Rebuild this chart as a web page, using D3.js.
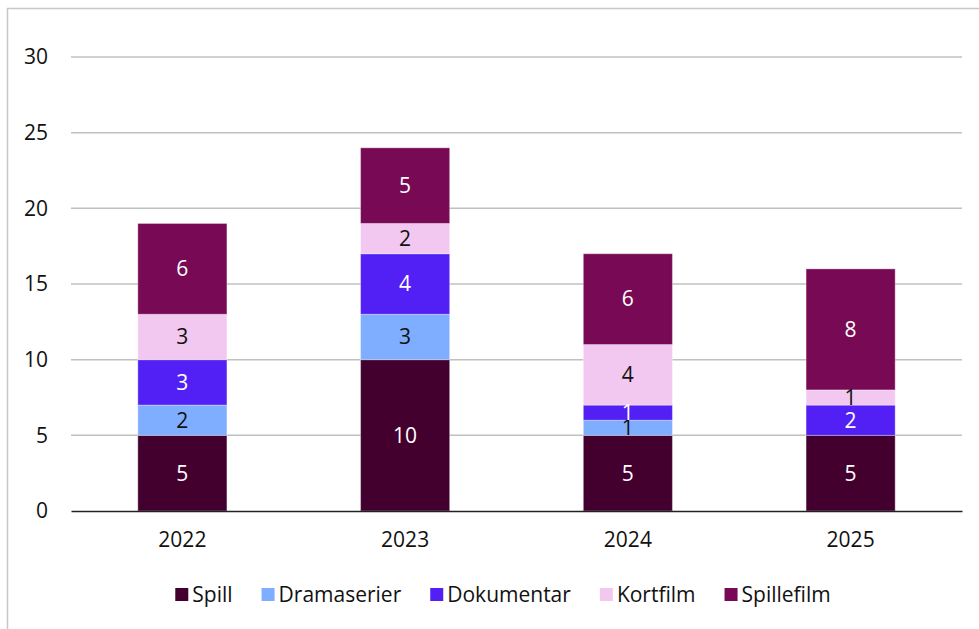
<!DOCTYPE html>
<html>
<head>
    <meta charset="UTF-8">
    <script src="https://d3js.org/d3.v7.min.js"></script>
    <style type="text/css">
        body { margin: 0; background: #fff; }
        text { font-family: "Open Sans", "Noto Sans", sans-serif; }
    </style>
</head>
<body>
    <script type="text/javascript">
        // Data
        var years = ["2022", "2023", "2024", "2025"];
        var seriesNames = ["Spill", "Dramaserier", "Dokumentar", "Kortfilm", "Spillefilm"];
        var spill = [5, 10, 5, 5];
        var dramaserier = [2, 3, 1, 0];
        var dokumentar = [3, 4, 1, 2];
        var kortfilm = [3, 2, 4, 1];
        var spillefilm = [6, 5, 6, 8];
        var yTicks = [0, 5, 10, 15, 20, 25, 30];

        var colors = ["#43002f", "#7fadff", "#5220f5", "#f2c8f0", "#780a55"];
        var labelColors = ["#fff", "#111", "#fff", "#111", "#fff"];

        var table = years.map(function (y, i) {
            return {
                year: y, Spill: spill[i], Dramaserier: dramaserier[i],
                Dokumentar: dokumentar[i], Kortfilm: kortfilm[i], Spillefilm: spillefilm[i]
            };
        });

        var W = 979, H = 629;
        var margin = { left: 71, right: 17, top: 57, bottom: 118 };
        var width = W - margin.left - margin.right,
            height = H - margin.top - margin.bottom;
        var fs = "21px";

        var svg = d3.select("body").append("svg")
            .attr("width", W)
            .attr("height", H);

        // Chart frame (runs off right and bottom edges)
        svg.append("rect")
            .attr("x", 7.5).attr("y", 8.5)
            .attr("width", W + 10).attr("height", H + 10)
            .attr("fill", "none")
            .attr("stroke", "#c8c8c8")
            .attr("stroke-width", 1.5);

        var g = svg.append("g")
            .attr("transform", "translate(" + margin.left + "," + margin.top + ")");

        var x = d3.scaleBand().domain(years).range([0, width]).paddingInner(0.6).paddingOuter(0.3);
        var y = d3.scaleLinear().domain([0, 30]).range([height, 0]);

        // Gridlines
        g.selectAll(".grid")
            .data(yTicks.filter(function (d) { return d > 0; }))
            .enter().append("line")
            .attr("x1", 0).attr("x2", width)
            .attr("y1", function (d) { return y(d); })
            .attr("y2", function (d) { return y(d); })
            .attr("stroke", "#c0c0c0")
            .attr("stroke-width", 1.5);

        // Y axis labels
        var yAxis = d3.axisLeft(y).tickValues(yTicks).tickSize(0).tickPadding(23);
        var ya = g.append("g").call(yAxis);
        ya.select(".domain").remove();
        ya.selectAll("text").style("font-size", fs).attr("fill", "#111");

        var stack = d3.stack().keys(seriesNames);
        var layers = stack(table);

        var layer = g.selectAll(".layer")
            .data(layers)
            .enter().append("g")
            .attr("fill", function (d, i) { return colors[i]; });

        layer.selectAll("rect")
            .data(function (d) { return d.filter(function (p) { return p[1] - p[0] > 0; }); })
            .enter().append("rect")
            .attr("x", function (d) { return x(d.data.year); })
            .attr("width", x.bandwidth())
            .attr("y", function (d) { return y(d[1]); })
            .attr("height", function (d) { return y(d[0]) - y(d[1]); })
            .attr("stroke", "#ffffff")
            .attr("stroke-opacity", 0.35)
            .attr("stroke-width", 1);

        // Value labels
        layers.forEach(function (L, i) {
            g.selectAll(".lab" + i)
                .data(L.filter(function (p) { return p[1] - p[0] > 0; }))
                .enter().append("text")
                .attr("x", function (d) { return x(d.data.year) + x.bandwidth() / 2; })
                .attr("y", function (d) { return y((d[0] + d[1]) / 2); })
                .attr("dy", "0.35em")
                .attr("text-anchor", "middle")
                .style("font-size", fs)
                .attr("fill", labelColors[i])
                .text(function (d) { return d[1] - d[0]; });
        });

        // X axis
        var xAxis = d3.axisBottom(x).tickSize(0).tickPadding(21);
        var xa = g.append("g")
            .attr("transform", "translate(0," + height + ")")
            .call(xAxis);
        xa.select(".domain").attr("stroke", "#222").attr("stroke-width", 1.5);
        xa.selectAll("text").style("font-size", fs).attr("fill", "#111");

        // Legend: swatch, text, gap; centred under the plot
        var legend = svg.append("g");
        var items = seriesNames.map(function (name, i) {
            var it = legend.append("g");
            it.append("rect")
                .attr("x", 0).attr("y", -7)
                .attr("width", 13).attr("height", 13)
                .attr("fill", colors[i]);
            var t = it.append("text")
                .attr("x", 17).attr("y", 0)
                .attr("dy", "0.35em")
                .style("font-size", fs)
                .attr("fill", "#111")
                .text(name);
            return { g: it, w: 17 + t.node().getComputedTextLength() };
        });
        var gap = 29;
        var total = d3.sum(items, function (d) { return d.w; }) + gap * (items.length - 1);
        var cx = 503 - total / 2;
        items.forEach(function (d) {
            d.g.attr("transform", "translate(" + cx + ",595)");
            cx += d.w + gap;
        });
    </script>
</body>
</html>
